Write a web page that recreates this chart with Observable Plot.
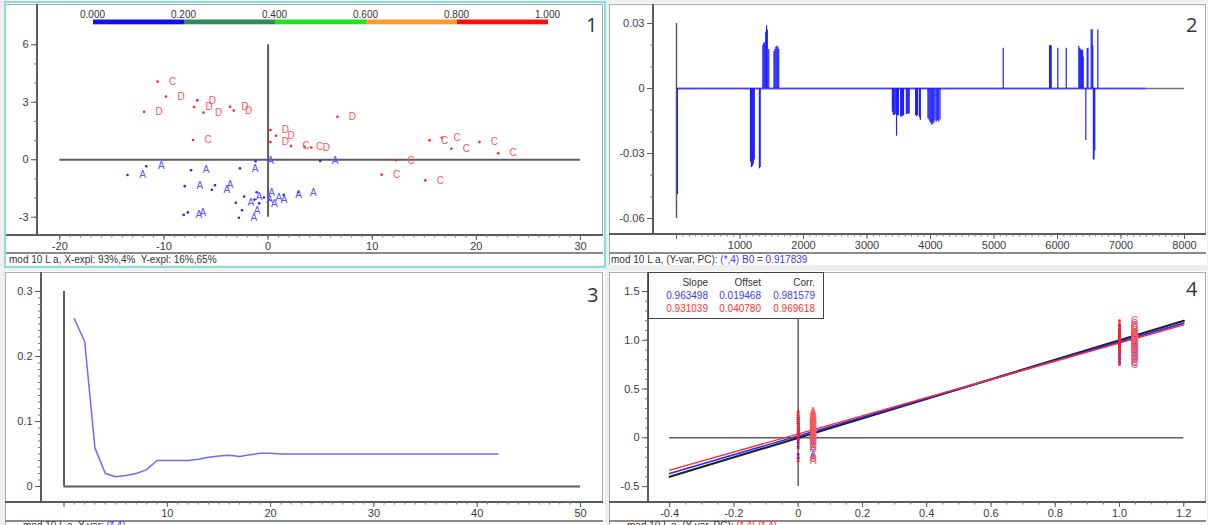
<!DOCTYPE html>
<html>
<head>
<meta charset="utf-8">
<script src="https://cdn.jsdelivr.net/npm/d3@7"></script>
<script src="https://cdn.jsdelivr.net/npm/@observablehq/plot@0.6"></script>
<style>
  body { margin: 0; background: #f0f0f0; font-family: "Liberation Sans", Arial, sans-serif; }
  #board { position: relative; width: 1208px; height: 525px; overflow: hidden; background: #efefef; }
  .foot { position: absolute; font-size: 10px; line-height: 11px; color: #333; white-space: pre; }
  .num { position: absolute; font-family: "Open Sans", sans-serif; font-size: 20px; line-height: 20px; color: #333; }
  .leg { position: absolute; background: #fff; border: 1.5px solid #444; box-sizing: border-box; }
  .leg span { position: absolute; font-size: 10px; line-height: 11px; text-align: right; width: 60px; }
</style>
</head>
<body>
<div id="board"></div>
<script>
// ---------- sample scores (panel 1) ----------
const sampleLabel = [
  "A","A","A","A","A","A","A","A","A","A","A","A","A","A","A","A","A","A","A","A","A","A",
  "C","D","D","D","D","D","D","D","C","D","D","D","C","C","D","D","C","C","C","C","C","C","C","C"
];
const scoreT1 = [
  -13.5,-11.7,-7.4,-8.0,-5.1,-5.4,-2.7,-1.2,-8.1,-7.7,-3.1,-2.3,-2.5,-2.8,-1.1,-1.3,-0.85,-0.4,0.1,1.5,2.9,5.0,
  -10.6,-9.8,-11.9,-6.8,-7.1,-6.2,-3.65,-3.3,-7.2,0.22,0.77,0.22,2.2,3.5,4.16,6.66,12.3,10.9,15.1,15.5,16.7,17.6,20.3,22.1
];
const scoreT2 = [
  -0.8,-0.34,-0.55,-1.38,-1.33,-1.57,-0.45,-0.08,-2.88,-2.75,-2.25,-1.92,-2.64,-3.03,-1.7,-2.08,-2.28,-1.97,-2.1,-1.83,-1.7,-0.06,
  4.08,3.3,2.5,3.1,2.75,2.46,2.76,2.57,1.03,1.55,1.25,0.92,0.72,0.67,0.64,2.24,-0.03,-0.78,-1.08,1.01,1.15,0.57,0.92,0.34
];
const scoreXTicks = [-20,-10,0,10,20,30];
const scoreXTickLabels = ["-20","-10","0","10","20","30"];
const scoreYTicks = [-3,0,3,6];
const scoreYTickLabels = ["-3","0","3","6"];
const colorBarStops = [0, 0.2, 0.4, 0.6, 0.8, 1.0];
const colorBarLabels = ["0.000","0.200","0.400","0.600","0.800","1.000"];

// ---------- regression coefficients (panel 2) ----------
const coefWave = [
  15,
  1165,1180,1195,1210,1225,1305,1318,
  1360,1375,1390,1405,1418,1430,1453,
  1535,1550,1565,1580,1595,1610,
  3400,3415,3430,3445,3465,3480,3495,3530,3545,3560,3575,3620,3635,3650,3665,
  3765,3780,3795,3825,3840,
  3960,3975,3990,4005,4020,4035,4050,4070,4090,4110,4130,4150,
  5145,5875,5890,5900,6005,6137,
  6336,6350,6365,6380,6395,6404,6446,6468,6480,
  6531,6546,6556,6565,6575,6587,6635
];
const coefValue = [
  -0.049,
  -0.034,-0.0365,-0.036,-0.035,-0.033,-0.037,-0.0365,
  0.020,0.021,0.021,0.026,0.029,0.027,0.018,
  0.017,0.018,0.019,0.0195,0.019,0.018,
  -0.011,-0.0125,-0.0125,-0.012,-0.022,-0.0125,-0.0125,-0.013,-0.0132,-0.0128,-0.0125,-0.012,-0.0118,-0.012,-0.0115,
  -0.0125,-0.013,-0.0125,-0.0135,-0.0148,
  -0.014,-0.0145,-0.0155,-0.016,-0.017,-0.0165,-0.016,-0.015,-0.0155,-0.015,-0.0155,-0.0145,
  0.0186,0.0198,0.0198,0.0195,0.0186,0.0186,
  0.0194,0.0185,0.0178,0.0178,0.0175,0.0145,-0.024,0.0183,0.0186,
  0.0271,0.0271,0.0198,-0.033,-0.0329,-0.0286,0.027
];
const coefWaveEnd = 7400;
const coefAxisEnd = 8000;
const coefXTicks = [0,1000,2000,3000,4000,5000,6000,7000,8000];
const coefXTickLabels = ["","1000","2000","3000","4000","5000","6000","7000","8000"];
const coefYTicks = [-0.06,-0.03,0,0.03];
const coefYTickLabels = ["-0.06","-0.03","0","0.03"];
const b0Text = "(*,4) B0 = 0.917839";

// ---------- residual variance by component (panel 3) ----------
const pcCount = [1,2,3,4,5,6,7,8,9,10,11,12,13,14,15,16,17,18,19,20,21,22,23,24,25,26,27,28,29,30,31,32,33,34,35,36,37,38,39,40,41,42];
const resVar = [
  0.258,0.223,0.059,0.020,0.015,0.017,0.020,0.026,0.040,0.040,0.040,0.040,0.042,0.045,0.047,0.048,0.046,0.049,0.051,0.051,
  0.050,0.050,0.050,0.050,0.050,0.050,0.050,0.050,0.050,0.050,0.050,0.050,0.050,0.050,0.050,0.050,0.050,0.050,0.050,0.050,0.050,0.050
];
const resXTicks = [0,10,20,30,40,50];
const resXTickLabels = ["","10","20","30","40","50"];
const resYTicks = [0,0.1,0.2,0.3];
const resYTickLabels = ["0","0.1","0.2","0.3"];

// ---------- predicted vs reference (panel 4) ----------
const refValue = sampleLabel.map(l => l === "A" ? 0 : 1);
const predCal = [
  -0.21,-0.17,-0.09,-0.05,-0.02,0.00,0.01,0.03,0.04,0.05,0.06,0.07,0.08,0.09,0.10,0.11,0.12,0.13,0.15,0.17,0.19,0.21,
  0.77,0.80,0.83,0.86,0.88,0.90,0.92,0.94,0.95,0.97,0.98,0.99,1.00,1.01,1.02,1.03,1.04,1.05,1.06,1.07,1.08,1.10,1.12,1.15
];
const predVal = [
  -0.24,-0.20,-0.11,-0.07,-0.03,-0.01,0.01,0.02,0.04,0.06,0.07,0.09,0.10,0.12,0.13,0.15,0.17,0.19,0.21,0.23,0.25,0.27,
  0.75,0.78,0.81,0.84,0.87,0.89,0.91,0.93,0.95,0.96,0.98,1.00,1.01,1.02,1.03,1.04,1.05,1.06,1.08,1.10,1.12,1.14,1.17,1.20
];
const fitSlope = [0.963498, 0.931039];
const fitOffset = [0.019468, 0.040780];
const fitCorr = [0.981579, 0.969618];
const fitRange = [-0.4, 1.2];
const predXTicks = [-0.4,-0.2,0,0.2,0.4,0.6,0.8,1.0,1.2];
const predXTickLabels = ["-0.4","-0.2","0","0.2","0.4","0.6","0.8","1.0","1.2"];
const predYTicks = [-0.5,0,0.5,1.0,1.5];
const predYTickLabels = ["-0.5","0","0.5","1.0","1.5"];

// ---------- drawing ----------
const board = document.getElementById("board");
const BLUE = "#2424ff", BLUE_TXT = "#5555ff", RED = "#ff2020", RED_TXT = "#ff5555";
const AXIS = "#5c5c5c", EDGE = "#ababab";

function el(cls, css, text) {
  const d = document.createElement("div");
  if (cls) d.className = cls;
  d.style.cssText = css;
  if (text != null) d.textContent = text;
  board.appendChild(d);
  return d;
}
function hline(x1, x2, y, w, c) { el("", `position:absolute;left:${x1}px;top:${y - w / 2}px;width:${x2 - x1}px;height:${w}px;background:${c}`); }
function vline(x, y1, y2, w, c) { el("", `position:absolute;left:${x - w / 2}px;top:${y1}px;width:${w}px;height:${y2 - y1}px;background:${c}`); }

// window chrome for one panel
function chrome(p) {
  el("", `position:absolute;left:${p.box[0]}px;top:${p.box[1]}px;width:${p.box[2] - p.box[0]}px;height:${p.box[3] - p.box[1]}px;background:#fff`);
  hline(p.box[0], p.frame.r, p.frame.t, 1, EDGE);
  vline(p.frame.r, p.frame.t, p.frame.b, 1, EDGE);
  vline(p.box[0] + 0.5, p.frame.t, p.box[3], 1, EDGE);
  vline(p.frame.l, p.frame.t, p.frame.b, 2, AXIS);
  hline(p.box[0], p.frame.r + 1, p.frame.b, 2, AXIS);
  hline(p.box[0], p.frame.r + 1, p.strip, 2, "#8a8a8a");
}

function inv(v0, p0, v1, p1) { return p => v0 + (p - p0) * (v1 - v0) / (p1 - p0); }

function labelFor(ticks, labels) { return d => labels[ticks.findIndex(t => Math.abs(t - d) < 1e-9)]; }

function axes(xt, xl, xMinor, yt, yl, yMinor) {
  return [
    Plot.axisX(xMinor, {tickSize: 2.5, stroke: "#777", fill: "none", label: null}),
    Plot.axisX(xt, {tickSize: 5, tickPadding: 2, tickFormat: labelFor(xt, xl), stroke: AXIS, fill: "#3c3c3c", fontSize: 11, label: null}),
    Plot.axisY(yMinor, {tickSize: 3, stroke: "#777", fill: "none", label: null}),
    Plot.axisY(yt, {tickSize: 6, tickPadding: 3, tickFormat: labelFor(yt, yl), stroke: AXIS, fill: "#3c3c3c", fontSize: 11, label: null})
  ];
}

function drawPanel(p, marks) {
  const ix = inv(...p.xCal), iy = inv(...p.yCal);
  const svg = Plot.plot({
    width: p.width, height: p.height,
    marginLeft: p.frame.l - p.left, marginRight: p.left + p.width - p.frame.r,
    marginTop: p.frame.t - p.top, marginBottom: p.top + p.height - p.frame.b,
    x: {domain: [ix(p.frame.l), ix(p.frame.r)]},
    y: {domain: [iy(p.frame.b), iy(p.frame.t)]},
    style: {position: "absolute", left: p.left + "px", top: p.top + "px", background: "transparent",
            overflow: "visible", fontFamily: "'Liberation Sans', Arial, sans-serif", fontSize: "11px", color: "#3c3c3c", maxWidth: "none"},
    marks
  });
  board.appendChild(svg);
}

function range(a, b, step) { const out = []; for (let v = a; v <= b + step / 1000; v += step) out.push(+v.toFixed(6)); return out; }

const idx = sampleLabel.map((_, i) => i);
const idxA = idx.filter(i => sampleLabel[i] === "A");
const idxCD = idx.filter(i => sampleLabel[i] !== "A");

// ---- panel 1: scores ----
const P1 = {left: 0, top: 0, width: 605, height: 265, box: [5, 3, 605, 265], frame: {l: 37, r: 602, t: 4, b: 235}, strip: 253,
  xCal: [-20, 59.3, 30, 580], yCal: [6, 44.3, -3, 216.7]};
chrome(P1);
drawPanel(P1, [
  ...axes(scoreXTicks, scoreXTickLabels, range(-20, 30, 1), scoreYTicks, scoreYTickLabels, range(-3, 6, 1)),
  Plot.ruleY([0], {x1: -20, x2: 30, stroke: AXIS, strokeWidth: 2}),
  Plot.ruleX([0], {y1: -3, y2: 6, stroke: AXIS, strokeWidth: 2}),
  Plot.dot(idxA, {x: i => scoreT1[i], y: i => scoreT2[i], r: 1.3, fill: BLUE, stroke: null}),
  Plot.text(idxA, {x: i => scoreT1[i], y: i => scoreT2[i], text: i => sampleLabel[i], dx: 15, fill: BLUE_TXT, fontSize: 10}),
  Plot.dot(idxCD, {x: i => scoreT1[i], y: i => scoreT2[i], r: 1.3, fill: RED, stroke: null}),
  Plot.text(idxCD, {x: i => scoreT1[i], y: i => scoreT2[i], text: i => sampleLabel[i], dx: 15, fill: RED_TXT, fontSize: 10})
]);
el("", "position:absolute;left:4px;top:1px;width:602px;height:267px;border:2px solid #86e0e0;box-sizing:border-box");
el("foot", "left:9px;top:254px", "mod 10 L a, X-expl: 93%,4%  Y-expl: 16%,65%");
el("num", "left:586px;top:15px", "1");

// colour scale bar above the score plot
{
  const segs = colorBarStops.slice(0, -1).map((s, i) => ({x1: s, x2: colorBarStops[i + 1], k: i}));
  const segColors = ["#1010ee", "#2f8a55", "#22e022", "#ff9a33", "#ff1010"];
  const svg = Plot.plot({
    width: 500, height: 30, marginLeft: 13, marginRight: 32, marginTop: 0, marginBottom: 0,
    x: {domain: [0, 1], axis: null},
    y: {domain: [0, 30], range: [0, 30], axis: null},
    style: {position: "absolute", left: "80px", top: "0px", background: "transparent", overflow: "visible",
            fontFamily: "'Liberation Sans', Arial, sans-serif", maxWidth: "none"},
    marks: [
      Plot.rect(segs, {x1: "x1", x2: "x2", y1: 19.5, y2: 24.3, fill: d => segColors[d.k]}),
      Plot.text(colorBarStops, {x: d => d, y: 14, text: (d, i) => colorBarLabels[i], fontSize: 10, fill: "#333", dx: -1})
    ]
  });
  board.appendChild(svg);
}

// ---- panel 2: regression coefficients ----
const P2 = {left: 605, top: 0, width: 603, height: 265, box: [609, 3, 1207, 265], frame: {l: 653, r: 1205, t: 4, b: 234}, strip: 253,
  xCal: [0, 676, 8000, 1184], yCal: [0.03, 23, -0.06, 218]};
chrome(P2);
const coefIdx = coefWave.map((_, i) => i);
drawPanel(P2, [
  ...axes(coefXTicks, coefXTickLabels, range(0, 8000, 100), coefYTicks, coefYTickLabels, range(-0.06, 0.03, 0.01)),
  Plot.ruleY([0], {x1: 0, x2: coefAxisEnd, stroke: "#777", strokeWidth: 1.5}),
  Plot.ruleX([0], {y1: -0.06, y2: 0.03, stroke: AXIS, strokeWidth: 1.5}),
  Plot.ruleY([0], {x1: 0, x2: coefWaveEnd, stroke: "#3f3fff", strokeWidth: 1.5}),
  Plot.ruleX(coefIdx, {x: i => coefWave[i], y1: 0, y2: i => coefValue[i], stroke: "#1f1fff", strokeWidth: 1.2})
]);
{
  const f = el("foot", "left:611px;top:254px", "mod 10 L a, (Y-var, PC): ");
  const s = document.createElement("span"); s.style.color = "#3a3aff"; s.textContent = b0Text; f.appendChild(s);
}
el("num", "left:1186px;top:15px", "2");

// ---- panel 3: residual variance ----
const P3 = {left: 0, top: 268, width: 605, height: 257, box: [5, 271, 605, 525], frame: {l: 41, r: 602, t: 272, b: 502}, strip: 521,
  xCal: [0, 63.5, 50, 580], yCal: [0, 486, 0.3, 291]};
chrome(P3);
drawPanel(P3, [
  ...axes(resXTicks, resXTickLabels, range(0, 50, 1), resYTicks, resYTickLabels, range(0, 0.3, 0.01)),
  Plot.ruleX([0], {y1: 0, y2: 0.3, stroke: AXIS, strokeWidth: 2}),
  Plot.ruleY([0], {x1: 0, x2: 50, stroke: AXIS, strokeWidth: 2}),
  Plot.line(pcCount.map((_, i) => i), {x: i => pcCount[i], y: i => resVar[i], stroke: "#6b6bff", strokeWidth: 1.5})
]);
{
  const f = el("foot", "left:23px;top:520px", "mod 10 L a, Y-var: ");
  const s = document.createElement("span"); s.style.color = "#3a3aff"; s.textContent = "(*,4)"; f.appendChild(s);
}
el("num", "left:587px;top:285px", "3");

// ---- panel 4: predicted vs reference ----
const P4 = {left: 605, top: 268, width: 603, height: 257, box: [609, 271, 1207, 525], frame: {l: 648, r: 1205, t: 272, b: 502}, strip: 521,
  xCal: [0, 797.7, 1.2, 1183.3], yCal: [0, 437.3, 1.5, 291]};
chrome(P4);
const fitLine = k => fitRange.map(x => ({x, y: fitSlope[k] * x + fitOffset[k]}));
drawPanel(P4, [
  ...axes(predXTicks, predXTickLabels, range(-0.4, 1.2, 0.05), predYTicks, predYTickLabels, range(-0.5, 1.5, 0.1)),
  Plot.ruleY([0], {x1: -0.4, x2: 1.2, stroke: AXIS, strokeWidth: 1.5}),
  Plot.ruleX([0], {y1: -0.5, y2: 1.5, stroke: AXIS, strokeWidth: 1.5}),
  Plot.line(fitRange.map(x => ({x, y: x})), {x: "x", y: "y", stroke: "#222", strokeWidth: 2.2}),
  Plot.line(fitLine(0), {x: "x", y: "y", stroke: "#2a2aff", strokeWidth: 1.6}),
  Plot.line(fitLine(1), {x: "x", y: "y", stroke: "#ff2a2a", strokeWidth: 1.3}),
  Plot.dot(idx, {x: i => refValue[i], y: i => predCal[i], r: 1.4, fill: BLUE, stroke: null}),
  Plot.text(idx, {x: i => refValue[i], y: i => predCal[i], text: i => sampleLabel[i], dx: 15, fill: BLUE_TXT, fontSize: 10}),
  Plot.dot(idx, {x: i => refValue[i], y: i => predVal[i], r: 1.4, fill: RED, stroke: null}),
  Plot.text(idx, {x: i => refValue[i], y: i => predVal[i], text: i => sampleLabel[i], dx: 15, fill: RED_TXT, fontSize: 10})
]);
{
  const leg = el("leg", "left:648px;top:272px;width:176px;height:47px");
  const cols = [[fitSlope, "Slope"], [fitOffset, "Offset"], [fitCorr, "Corr."]];
  const rights = [59, 112, 166];
  const tops = [4, 17, 30];
  const colors = ["#333", "#3a3aff", "#ff3030"];
  cols.forEach(([vals, head], c) => {
    const rows = [head, vals[0].toFixed(6), vals[1].toFixed(6)];
    rows.forEach((t, r) => {
      const s = document.createElement("span");
      s.style.left = (rights[c] - 60) + "px";
      s.style.top = tops[r] + "px";
      s.style.color = colors[r];
      s.textContent = t;
      leg.appendChild(s);
    });
  });
}
{
  const f = el("foot", "left:627px;top:520px", "mod 10 L a, (Y-var, PC): ");
  const s = document.createElement("span"); s.style.color = "#ff3030"; s.textContent = "(*,4) (*,4)"; f.appendChild(s);
}
el("num", "left:1186px;top:279px", "4");
</script>
</body>
</html>
